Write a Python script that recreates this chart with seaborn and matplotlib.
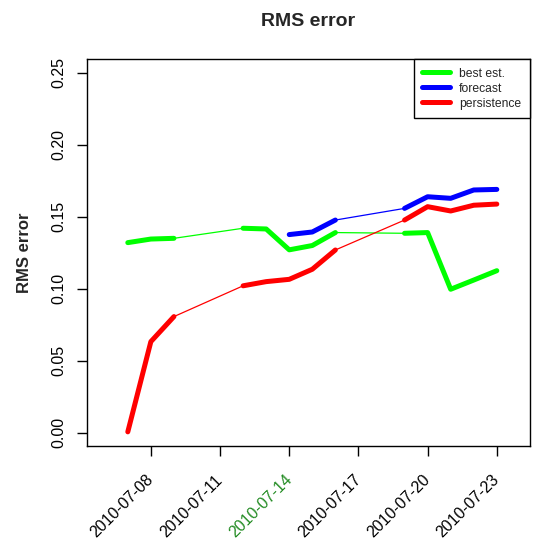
"""RMS error of best estimate, forecast and persistence, July 2010."""

import matplotlib.pyplot as plt
import matplotlib.transforms as mtransforms
from matplotlib.lines import Line2D
import pandas as pd
import seaborn as sns

# ── data ──────────────────────────────────────────────────────────────────────
best_dates = ["2010-07-07", "2010-07-08", "2010-07-09", "2010-07-12", "2010-07-13",
              "2010-07-14", "2010-07-15", "2010-07-16", "2010-07-19", "2010-07-20",
              "2010-07-21", "2010-07-22", "2010-07-23"]
best_est = [0.132, 0.1345, 0.135, 0.142, 0.1415, 0.127, 0.130, 0.139,
            0.1385, 0.139, 0.0996, 0.106, 0.1125]

fc_dates = ["2010-07-14", "2010-07-15", "2010-07-16", "2010-07-19", "2010-07-20",
            "2010-07-21", "2010-07-22", "2010-07-23"]
forecast = [0.1376, 0.1394, 0.1477, 0.1558, 0.1639, 0.1628, 0.1686, 0.169]

pers_dates = best_dates
persistence = [0.0005, 0.0632, 0.0806, 0.102, 0.1049, 0.1065, 0.1135, 0.1269,
               0.1477, 0.157, 0.154, 0.158, 0.1588]

tick_dates = ["2010-07-08", "2010-07-11", "2010-07-14", "2010-07-17",
              "2010-07-20", "2010-07-23"]
highlight = "2010-07-14"

COLORS = {"best est.": "#00FF00", "forecast": "#0000FF", "persistence": "#FF0000"}

frames = []
for name, d, v in [("best est.", best_dates, best_est),
                   ("forecast", fc_dates, forecast),
                   ("persistence", pers_dates, persistence)]:
    df = pd.DataFrame({"date": pd.to_datetime(d), "rms": v, "series": name})
    # consecutive days form one run (thick), gaps are bridged by a thin line
    df["run"] = (df["date"].diff().dt.days.fillna(1) > 1).cumsum()
    frames.append(df)
data = pd.concat(frames, ignore_index=True)

# ── canvas ────────────────────────────────────────────────────────────────────
sns.set_theme(style="ticks")
plt.rcParams["font.family"] = ["Liberation Sans", "DejaVu Sans"]

fig = plt.figure(figsize=(5.33, 5.43), dpi=100, facecolor="white")
ax = fig.add_axes([0.163, 0.179, 0.831, 0.712])

for name in COLORS:
    df = data[data["series"] == name]
    sns.lineplot(data=df, x="date", y="rms", color=COLORS[name], linewidth=0.9,
                 estimator=None, legend=False, ax=ax)
    sns.lineplot(data=df, x="date", y="rms", units="run", color=COLORS[name],
                 linewidth=3.6, estimator=None, legend=False, ax=ax,
                 solid_capstyle="round", solid_joinstyle="round")

ax.set_xlim(pd.Timestamp("2010-07-05 05:25"), pd.Timestamp("2010-07-24 10:20"))
ax.set_ylim(-0.0092, 0.2595)
ax.set_yticks([0.0, 0.05, 0.10, 0.15, 0.20, 0.25])
ax.set_yticklabels(["0.00", "0.05", "0.10", "0.15", "0.20", "0.25"],
                   rotation=90, va="center")
ax.set_xticks(pd.to_datetime(tick_dates))
ax.set_xticklabels(tick_dates, rotation=45, ha="right", va="top",
                   rotation_mode="anchor")

ax.tick_params(axis="both", direction="out", length=7, width=1, color="black",
               labelsize=11.5, labelcolor="black")
ax.tick_params(axis="x", pad=12)
ax.tick_params(axis="y", pad=8)
shift = mtransforms.ScaledTranslation(-0.05, 0, fig.dpi_scale_trans)
for lab, d in zip(ax.get_xticklabels(), tick_dates):
    lab.set_transform(lab.get_transform() + shift)
    if d == highlight:
        lab.set_color("#228B22")
for spine in ax.spines.values():
    spine.set_visible(True)
    spine.set_color("black")
    spine.set_linewidth(1)

ax.set_xlabel("")
ax.set_ylabel("RMS error", fontsize=12, fontweight="bold", labelpad=14)
ax.set_title("RMS error", fontsize=14, fontweight="bold", pad=24)

handles = [Line2D([], [], color=c, linewidth=3.6) for c in COLORS.values()]
leg = ax.legend(handles, list(COLORS), loc="upper right", borderaxespad=0,
                fontsize=8.7, handlelength=2.3, handletextpad=0.75,
                labelspacing=0.25, borderpad=0.7, fancybox=False,
                framealpha=1, edgecolor="black")
leg.get_frame().set_linewidth(1)

# ── save ──────────────────────────────────────────────────────────────────────
fig.savefig("out.png", dpi=100, facecolor=fig.get_facecolor())
